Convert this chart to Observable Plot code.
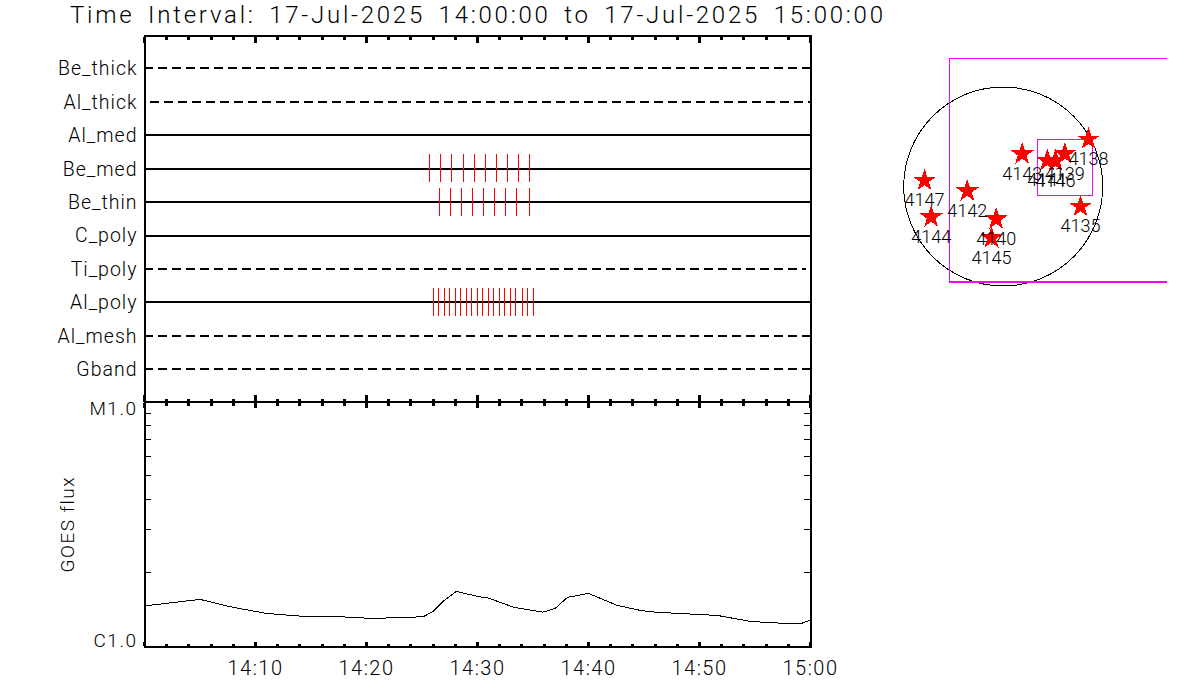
<!DOCTYPE html>
<html>
<head>
<meta charset="utf-8">
<script src="https://cdn.jsdelivr.net/npm/d3@7"></script>
<script src="https://cdn.jsdelivr.net/npm/@observablehq/plot@0.6"></script>
<style>
html,body{margin:0;padding:0;background:#fff;}
#chart{position:relative;width:1200px;height:700px;overflow:hidden;font-family:Roboto,"Liberation Sans",sans-serif;font-weight:300;color:#000;}
#title{position:absolute;left:70px;top:0;height:30px;line-height:30px;font-size:24px;letter-spacing:2.76px;word-spacing:5px;white-space:nowrap;}
#chart svg{position:absolute;left:0;top:0;background:transparent;overflow:visible;shape-rendering:crispEdges;}
</style>
</head>
<body>
<div id="chart"><div id="title"></div></div>
<script>
const titleText = "Time Interval: 17-Jul-2025 14:00:00 to 17-Jul-2025 15:00:00";
const channels = ["Be_thick","Al_thick","Al_med","Be_med","Be_thin","C_poly","Ti_poly","Al_poly","Al_mesh","Gband"];
const channelStart = [0,0.55,0,0,0,0,0,0,0,0];
const channelEnd = [60,60,60,60,60,60,59.6,60,60,60];
const channelDashed = [true,true,false,false,false,false,true,false,true,true];
const beMedTimes = [25.7,26.7,27.7,28.7,29.7,30.7,31.7,32.7,33.7,34.7];
const beThinTimes = [26.55,27.55,28.55,29.55,30.55,31.55,32.55,33.55,34.7];
const alPolyTimes = [26.02,26.47,27.02,27.47,28.02,28.47,29.02,29.47,29.97,30.42,30.97,31.42,31.97,32.42,32.97,33.42,34.07,34.52,35.07];
const goesMinutes = [0,5,8,11,15,18,20.5,25.1,26,26.9,28.1,30,31,33.3,35.9,37,38.1,40,42.6,44.7,46,51.6,54.6,57,59.1,60];
const goesFlux = [1.466,1.558,1.445,1.365,1.321,1.321,1.302,1.323,1.391,1.529,1.680,1.603,1.577,1.445,1.382,1.431,1.588,1.649,1.472,1.404,1.382,1.340,1.266,1.248,1.239,1.284];
const goesLogTicks = [2,3,4,5,6,7,8,9];
const regionIds = ["4147","4142","4144","4140","4145","4143","4141","4146","4139","4138","4135"];
const regionX = [-759,-347,-695,-68,-113,183,425,505,594,823,746];
const regionY = [58,-45,-296,-315,-495,312,251,244,315,456,-193];
const bigBox = {x1:-518,x2:1575,y1:-917,y2:1235};
const smallBox = {x1:331,x2:871,y1:-92,y2:448};

const base = new Date(Date.UTC(2025,6,17,14,0,0));
const t = m => new Date(+base + m*60000);
const xDomain = [t(0),t(60)];
const tickMin = d3.range(0,61,2).filter(m=>m%10!==0).map(t);
const tickMaj = d3.range(0,61,10).map(t);
const tickLab = d3.range(10,61,10).map(t);
const fontFamily = 'Roboto,"Liberation Sans",sans-serif';
const chart = document.getElementById("chart");
document.getElementById("title").textContent = titleText;

const place = svg => chart.appendChild(svg);
const base2 = ls => ({fontFamily,fontWeight:300,color:"#000",background:"transparent",letterSpacing:ls});
const panelSize = {width:1200,height:700,marginLeft:144,marginRight:390};
const xAxisTicks = (anchor,majLen,minLen) => [
  Plot.axisX(tickMin,{anchor,tickSize:minLen,text:null,label:null,strokeWidth:3}),
  Plot.axisX(tickMaj,{anchor,tickSize:majLen,text:null,label:null,strokeWidth:3})
];

// Filter panel
const rows = channels.map((name,i)=>({name,a:t(channelStart[i]),b:t(channelEnd[i]),dashed:channelDashed[i]}));
const hits = [
  ...beMedTimes.map(m=>({name:"Be_med",time:t(m)})),
  ...beThinTimes.map(m=>({name:"Be_thin",time:t(m)})),
  ...alPolyTimes.map(m=>({name:"Al_poly",time:t(m)}))
];
place(Plot.plot({...panelSize,marginTop:35.5,marginBottom:298.5,style:base2("1px"),
  x:{type:"utc",domain:xDomain,axis:null},
  y:{type:"band",domain:channels,range:[51.2,385.4],padding:0,round:false,axis:null},
  marks:[
    Plot.frame({stroke:"#000",strokeWidth:2}),
    Plot.ruleY(rows.filter(d=>!d.dashed),{y:"name",x1:"a",x2:"b",stroke:"#000",strokeWidth:2}),
    Plot.ruleY(rows.filter(d=>d.dashed),{y:"name",x1:"a",x2:"b",stroke:"#000",strokeWidth:2,strokeDasharray:"8.7,5.3"}),
    Plot.tickX(hits,{x:"time",y:"name",stroke:"#f00",strokeWidth:1,insetTop:2.7,insetBottom:2.7}),
    Plot.axisY({anchor:"left",tickSize:0,tickPadding:7,label:null,fontSize:19.5,dy:0.7}),
    ...xAxisTicks("top",-6,-3),
    ...xAxisTicks("bottom",-7,-3)
  ]
}));

// GOES panel
const goes = goesMinutes.map((m,i)=>({time:t(m),flux:goesFlux[i]}));
place(Plot.plot({...panelSize,marginTop:401.5,marginBottom:54,style:base2("1.5px"),
  x:{type:"utc",domain:xDomain,axis:null},
  y:{type:"log",domain:[1,10],axis:null},
  marks:[
    Plot.frame({stroke:"#000",strokeWidth:2}),
    Plot.line(goes,{x:"time",y:"flux",stroke:"#000",strokeWidth:1}),
    Plot.axisY(goesLogTicks,{anchor:"left",tickSize:-7,text:null,label:null,strokeWidth:1}),
    Plot.axisY(goesLogTicks,{anchor:"right",tickSize:-7,text:null,label:null,strokeWidth:1}),
    ...xAxisTicks("top",-5,-3),
    ...xAxisTicks("bottom",-4,-2),
    Plot.axisX(tickLab,{anchor:"bottom",tickSize:0,tickPadding:14,label:null,tickFormat:d3.utcFormat("%H:%M"),fontSize:20}),
    Plot.text([1],{y:d=>d,text:()=>"C1.0",frameAnchor:"left",textAnchor:"end",dx:-7,dy:-6,fontSize:19,fill:"#000"}),
    Plot.text([10],{y:d=>d,text:()=>"M1.0",frameAnchor:"left",textAnchor:"end",dx:-7,dy:7,fontSize:19,fill:"#000"}),
    Plot.text(["GOES flux"],{frameAnchor:"left",textAnchor:"middle",rotate:-90,dx:-77,fontSize:19,fill:"#000"})
  ]
}));

// Solar disk map
const regions = regionIds.map((id,i)=>({id,x:regionX[i],y:regionY[i]}));
place(Plot.plot({width:1200,height:700,marginLeft:903.2,marginRight:97.8,marginTop:86.5,marginBottom:414.5,style:base2("0px"),
  x:{type:"linear",domain:[-960,960],axis:null},
  y:{type:"linear",domain:[-960,960],axis:null},
  marks:[
    Plot.dot([{x:0,y:0}],{x:"x",y:"y",r:99.5,stroke:"#000",strokeWidth:1,fill:"none"}),
    Plot.line([[bigBox.x2,bigBox.y2],[bigBox.x1,bigBox.y2],[bigBox.x1,bigBox.y1]],{x:d=>d[0],y:d=>d[1],stroke:"#f0f",strokeWidth:1}),
    Plot.line([[bigBox.x1,bigBox.y1],[bigBox.x2,bigBox.y1]],{x:d=>d[0],y:d=>d[1],stroke:"#f0f",strokeWidth:2}),
    Plot.rect([smallBox],{x1:"x1",x2:"x2",y1:"y1",y2:"y2",stroke:"#f0f",strokeWidth:1,fill:"none"}),
    Plot.dot(regions,{x:"x",y:"y",symbol:"star",r:7.2,fill:"#f00",stroke:"none"}),
    Plot.text(regions,{x:"x",y:"y",text:"id",dy:20,fontSize:18,fill:"#000"})
  ]
}));
</script>
</body>
</html>
